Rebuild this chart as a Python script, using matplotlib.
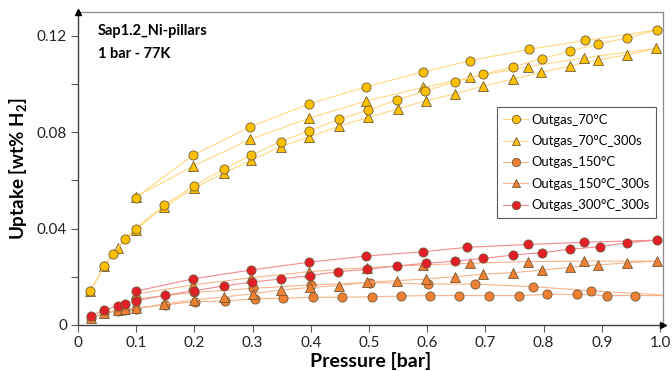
import matplotlib
matplotlib.use("Agg")
import matplotlib.pyplot as plt
from matplotlib.lines import Line2D

plt.rcParams['font.family'] = ['Lato', 'DejaVu Sans']
plt.rcParams['mathtext.fontset'] = 'custom'
plt.rcParams['mathtext.rm'] = 'Lato'
plt.rcParams['mathtext.bf'] = 'Lato:bold'

# ---------------- data (measurement order: adsorption then desorption) ----------------
p_70 = [0.021, 0.045, 0.060, 0.080, 0.099, 0.148, 0.199, 0.250, 0.298, 0.348, 0.397, 0.449,
        0.499, 0.548, 0.596, 0.647, 0.696, 0.748, 0.797, 0.845, 0.894, 0.943, 0.994,
        0.871, 0.774, 0.674, 0.593, 0.495, 0.396, 0.296, 0.198, 0.099]
u_70 = [0.0142, 0.0246, 0.0294, 0.0356, 0.0400, 0.0497, 0.0578, 0.0645, 0.0705, 0.0760, 0.0806, 0.0853,
        0.0892, 0.0933, 0.0971, 0.1007, 0.1040, 0.1071, 0.1104, 0.1136, 0.1165, 0.1190, 0.1223,
        0.1180, 0.1143, 0.1096, 0.1050, 0.0988, 0.0916, 0.0822, 0.0705, 0.0528]

p_70s = [0.021, 0.045, 0.068, 0.099, 0.148, 0.199, 0.250, 0.298, 0.348, 0.397, 0.449, 0.499,
         0.549, 0.597, 0.647, 0.696, 0.748, 0.796, 0.845, 0.894, 0.944, 0.993,
         0.870, 0.773, 0.674, 0.593, 0.495, 0.396, 0.296, 0.198, 0.099]
u_70s = [0.0140, 0.0243, 0.0318, 0.0395, 0.0490, 0.0567, 0.0629, 0.0684, 0.0739, 0.0780, 0.0825, 0.0861,
         0.0896, 0.0930, 0.0958, 0.0991, 0.1020, 0.1048, 0.1074, 0.1100, 0.1120, 0.1147,
         0.1108, 0.1071, 0.1027, 0.0985, 0.0929, 0.0857, 0.0770, 0.0659, 0.0532]

p_150 = [0.022, 0.045, 0.068, 0.080, 0.100, 0.149, 0.201, 0.253, 0.304, 0.353, 0.403, 0.454,
         0.505, 0.555, 0.605, 0.655, 0.706, 0.757, 0.805, 0.857, 0.908, 0.957, 1.020,
         0.881, 0.782, 0.682, 0.602, 0.502, 0.400, 0.300, 0.200, 0.100]
u_150 = [0.0028, 0.0048, 0.0058, 0.0064, 0.0068, 0.0083, 0.0097, 0.0099, 0.0109, 0.0111, 0.0115, 0.0115,
         0.0117, 0.0120, 0.0122, 0.0122, 0.0122, 0.0122, 0.0127, 0.0127, 0.0122, 0.0122, 0.0122,
         0.0142, 0.0159, 0.0170, 0.0170, 0.0176, 0.0166, 0.0152, 0.0135, 0.0108]

p_150s = [0.022, 0.045, 0.068, 0.080, 0.100, 0.148, 0.199, 0.250, 0.300, 0.349, 0.399, 0.448,
          0.497, 0.548, 0.598, 0.647, 0.696, 0.748, 0.797, 0.845, 0.894, 0.944, 0.994,
          0.870, 0.773, 0.674, 0.593, 0.496, 0.396, 0.297, 0.197, 0.099]
u_150s = [0.0030, 0.0050, 0.0062, 0.0067, 0.0069, 0.0087, 0.0104, 0.0116, 0.0130, 0.0145, 0.0156, 0.0163,
          0.0177, 0.0184, 0.0191, 0.0200, 0.0211, 0.0217, 0.0228, 0.0239, 0.0249, 0.0258, 0.0265,
          0.0265, 0.0263, 0.0256, 0.0249, 0.0238, 0.0221, 0.0196, 0.0166, 0.0128]

p_300s = [0.022, 0.045, 0.068, 0.080, 0.099, 0.149, 0.199, 0.250, 0.299, 0.349, 0.399, 0.447,
          0.497, 0.548, 0.598, 0.648, 0.696, 0.747, 0.797, 0.845, 0.897, 0.944, 0.994,
          0.870, 0.773, 0.668, 0.593, 0.495, 0.396, 0.297, 0.197, 0.099]
u_300s = [0.0039, 0.0062, 0.0079, 0.0087, 0.0100, 0.0123, 0.0142, 0.0162, 0.0178, 0.0191, 0.0205, 0.0221,
          0.0231, 0.0245, 0.0256, 0.0265, 0.0276, 0.0290, 0.0300, 0.0314, 0.0325, 0.0341, 0.0352,
          0.0343, 0.0334, 0.0322, 0.0304, 0.0286, 0.0260, 0.0228, 0.0191, 0.0140]

labels = ['Outgas_70°C', 'Outgas_70°C_300s', 'Outgas_150°C', 'Outgas_150°C_300s', 'Outgas_300°C_300s']
x_ticks = [0, 0.1, 0.2, 0.3, 0.4, 0.5, 0.6, 0.7, 0.8, 0.9, 1.0]
x_ticklabels = ['0', '0.1', '0.2', '0.3', '0.4', '0.5', '0.6', '0.7', '0.8', '0.9', '1.0']
y_major = [0, 0.04, 0.08, 0.12]
y_ticklabels = ['0', '0.04', '0.08', '0.12']
y_minor = [0.02, 0.06, 0.10]

# ---------------- styles ----------------
c70, l70 = '#FFC000', '#FFD780'
c150, l150 = '#EF8033', '#F6B48A'
c300, l300 = '#E21E26', '#F28A8F'
edge = '#6E5A3A'

series = [
    (p_70s, u_70s, '^', c70, l70, labels[1], 3),
    (p_70, u_70, 'o', c70, l70, labels[0], 4),
    (p_150, u_150, 'o', c150, l150, labels[2], 5),
    (p_150s, u_150s, '^', c150, l150, labels[3], 6),
    (p_300s, u_300s, 'o', c300, l300, labels[4], 7),
]

fig = plt.figure(figsize=(6.72, 3.71), dpi=100)
ax = fig.add_axes([78 / 672, 1 - 325 / 371, 585 / 672, 313 / 371])

handles = {}
for p, u, m, mc, lc, lab, z in series:
    ax.plot(p, u, color=lc, lw=0.8, zorder=z, clip_on=True)
    ax.plot(p, u, ls='none', marker=m, ms=6.6 if m == 'o' else 6.8, mfc=mc, mec=edge, mew=0.6,
            zorder=z + 0.5, clip_on=True)
    handles[lab] = Line2D([], [], color=lc, lw=0.8, marker=m, ms=6.0, mfc=mc, mec=edge, mew=0.6)

ax.set_xlim(0, 1.005)
ax.set_ylim(0, 0.1298)

ax.set_xticks(x_ticks)
ax.set_xticklabels(x_ticklabels)
ax.set_yticks(y_major)
ax.set_yticklabels(y_ticklabels)
ax.set_yticks(y_minor, minor=True)
ax.tick_params(axis='both', which='both', direction='out', length=5, width=0.8, color='#595959',
               labelsize=11, labelcolor='#222222', pad=3)

for s in ['top', 'right']:
    ax.spines[s].set_color('#8c8c8c')
    ax.spines[s].set_linewidth(0.9)
for s in ['left', 'bottom']:
    ax.spines[s].set_color('#404040')
    ax.spines[s].set_linewidth(1.0)

# arrow heads on the axes
ax.plot(0, 1, marker='^', ms=5, color='black', transform=ax.transAxes, clip_on=False, zorder=10)
ax.plot(1, 0, marker='>', ms=5, color='black', transform=ax.transAxes, clip_on=False, zorder=10)

ax.set_xlabel('Pressure [bar]', fontsize=14, fontweight='bold', labelpad=1)
ax.set_ylabel('Uptake [wt% H$_\\mathbf{2}$]', fontsize=13.5, fontweight='bold', labelpad=5)

ax.text(0.034, 0.939, 'Sap1.2_Ni-pillars', transform=ax.transAxes, fontsize=10.5,
        fontweight='bold', va='center', ha='left')
ax.text(0.034, 0.866, '1 bar - 77K', transform=ax.transAxes, fontsize=10.5,
        fontweight='bold', va='center', ha='left')

leg = ax.legend([handles[l] for l in labels], labels, loc='upper left',
                bbox_to_anchor=(0.716, 0.696), fontsize=9.4, frameon=True, fancybox=False,
                edgecolor='#595959', framealpha=1, handlelength=1.9, handletextpad=0.25,
                labelspacing=0.72, borderpad=0.5, borderaxespad=0)
leg.get_frame().set_linewidth(0.8)
leg.set_zorder(20)

fig.savefig('out.png', dpi=100)
